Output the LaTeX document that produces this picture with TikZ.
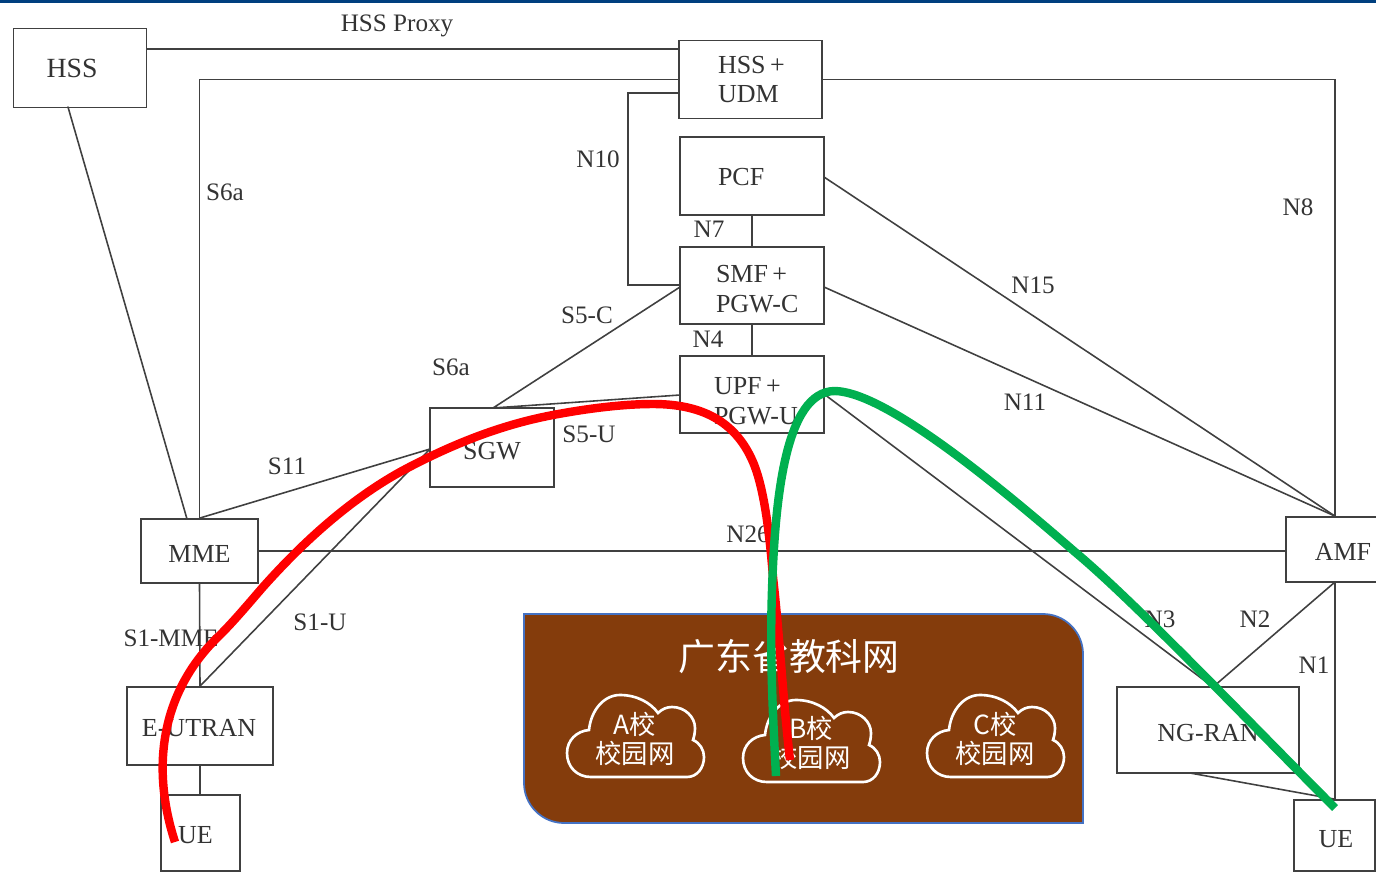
\documentclass[tikz,border=0pt]{standalone}
\usepackage{fontspec}
\setmainfont{Liberation Serif}
\newfontfamily\cjk{Noto Sans CJK SC}
\definecolor{lineG}{HTML}{404040}
\definecolor{textG}{HTML}{333333}
\definecolor{fillBrown}{HTML}{843C0C}
\definecolor{edgeBlue}{HTML}{4472C4}
\definecolor{barNavy}{HTML}{003F7F}
\definecolor{redP}{HTML}{FF0000}
\definecolor{greenP}{HTML}{00B050}
\tikzset{
  box/.style={draw=lineG, line width=1pt, inner sep=0pt, text=textG, align=left,
    font=\fontsize{14.8}{17}\selectfont},
  lab/.style={text=textG, inner sep=0pt, font=\fontsize{14.3}{17}\selectfont},
  conn/.style={draw=lineG, line width=.9pt},
  school/.style={text=white, align=center, inner sep=0pt, font=\cjk\fontsize{15}{16.5}\selectfont},
  route/.style={line width=4.8pt, line cap=butt},
  campus/.pic={
    \draw[white, line width=1.5pt] (24,82) .. controls (10,82) and (0,72) .. (0,58)
      .. controls (0,45) and (10,36) .. (22,35) .. controls (24,15) and (37,0) .. (53,0)
      .. controls (70,0) and (84,8) .. (91,18) .. controls (95,14) and (100,12) .. (105,12)
      .. controls (118,12) and (128,22) .. (128,33) .. controls (128,38) and (127,42) .. (126,45)
      .. controls (133,48) and (137,55) .. (137,62) .. controls (137,73) and (130,82) .. (120,82) -- cycle;
  }
}
\begin{document}
\begin{tikzpicture}[x=.02cm, y=-.02cm, line cap=round]
\useasboundingbox (0,0) rectangle (1376,875);
\fill[barNavy] (0,0) rectangle (1376,3);
% 网元
\node[box, minimum width=2.66cm, minimum height=1.58cm, font=\fontsize{15.8}{19}\selectfont] (hss) at (80,68) {HSS\hspace*{.32cm}};
\node[box, minimum width=2.86cm, minimum height=1.56cm, text width=2.86cm] (udm) at (750.5,79.5) {\hspace*{.78cm}HSS\,+\\\hspace*{.78cm}UDM};
\node[box, minimum width=2.88cm, minimum height=1.56cm, text width=2.88cm] (pcf) at (752,176) {\rule{0pt}{11pt}\hspace*{.76cm}PCF};
\node[box, minimum width=2.88cm, minimum height=1.54cm, text width=2.88cm] (smf) at (752,285.5) {\rule{0pt}{13.4pt}\hspace*{.72cm}SMF\,+\\\hspace*{.72cm}PGW-C};
\node[box, minimum width=2.88cm, minimum height=1.54cm, text width=2.88cm] (upf) at (752,394.5) {\rule{0pt}{17pt}\hspace*{.68cm}UPF\,+\\\hspace*{.68cm}PGW-U};
\node[box, minimum width=2.48cm, minimum height=1.58cm] (sgw) at (492,447.5) {\rule{0pt}{13.5pt}SGW};
\node[box, minimum width=2.34cm, minimum height=1.28cm] (mme) at (199.5,551) {\rule{0pt}{13.5pt}MME};
\node[box, minimum width=1.96cm, minimum height=1.30cm] (amf) at (1335,549.5) {\rule{0pt}{13pt}\hspace*{.32cm}AMF};
\node[box, minimum width=2.92cm, minimum height=1.56cm] (eutran) at (200,726) {\rule{0pt}{12pt}E-UTRAN\hspace*{.04cm}};
\node[box, minimum width=3.64cm, minimum height=1.72cm] (ngran) at (1208,730) {\rule{0pt}{13pt}NG-RAN};
\node[box, minimum width=1.58cm, minimum height=1.52cm] (ue) at (200.5,833) {\rule{0pt}{12.5pt}UE\hspace*{.2cm}};
\node[box, minimum width=1.62cm, minimum height=1.42cm] (uer) at (1334.5,835.5) {\rule{0pt}{14pt}\hspace*{.06cm}UE};
% 连线
\coordinate (hssA) at (hss.east |- 0,49);
\coordinate (hssB) at (68,107);
\coordinate (mmeA) at (187,519);
\coordinate (n10A) at (628,93);
\coordinate (n10B) at (628,285);
\coordinate (sgwT) at (493,408);
\coordinate (sgwL) at (430,449);
\coordinate (upfL) at (680,395);
\coordinate (smfL) at (680,287);
\coordinate (smfR) at (824,287);
\coordinate (pcfR) at (824,177);
\coordinate (upfR) at (824,394);
\coordinate (amfB) at (1335,582);
\coordinate (ngT) at (1213,687);
\coordinate (ngB) at (1190,773);
\draw[conn] (hssA) -- (udm.west |- hssA);
\draw[conn] (udm.west) -| (mme.north);
\draw[conn] (udm.east) -| (amf.north);
\draw[conn] (udm.west |- n10A) -- (n10A) -- (n10B) -- (smf.west |- n10B);
\draw[conn] (pcf.south) -- (smf.north);
\draw[conn] (smf.south) -- (upf.north);
\draw[conn] (hssB) -- (mmeA);
\draw[conn] (smfL) -- (sgwT) -- (upfL);
\draw[conn] (sgwL) -- (mme.north);
\draw[conn] (sgwL) -- (eutran.north);
\draw[conn] (mme.south) -- (eutran.north);
\draw[conn] (eutran.south) -- (ue.north -| eutran.south);
\draw[conn] (mme.east) -- (amf.west |- mme.east);
\draw[conn] (pcfR) -- (amf.north);
\draw[conn] (smfR) -- (amf.north);
\draw[conn] (upfR) -- (ngT);
\draw[conn] (amfB) -- (ngT);
\draw[conn] (amfB) -- (uer.north -| amfB);
\draw[conn] (ngB) -- (uer.north);
% 接口标注
\node[lab] (lproxy) at (397,26) {HSS Proxy};
\node[lab] (ls6a) at (225,192) {S6a};
\node[lab] (ln10) at (598,159) {N10};
\node[lab] (ln7) at (709,229) {N7};
\node[lab] (ln8) at (1298,207) {N8};
\node[lab] (ln15) at (1033,285) {N15};
\node[lab] (ls5c) at (587,315) {S5-C};
\node[lab] (ln4) at (708,339) {N4};
\node[lab] (ls6b) at (451,367) {S6a};
\node[lab] (ln11) at (1025,402) {N11};
\node[lab] (ls5u) at (589,434) {S5-U};
\node[lab] (ls11) at (287,466) {S11};
\node[lab] (ln26) at (748,534) {N26};
\node[lab] (ls1m) at (171,638) {S1-MME};
\node[lab] (ls1u) at (320,622) {S1-U};
\node[lab] (ln3) at (1160,619) {N3};
\node[lab] (ln2) at (1255,619) {N2};
\node[lab] (ln1) at (1314,665) {N1};
% 教科网
\draw[edgeBlue, fill=fillBrown, line width=1pt] (524,614) -- (1043,614)
  .. controls (1065,614) and (1083,632) .. (1083,654) -- (1083,823) -- (564,823)
  .. controls (542,823) and (524,805) .. (524,783) -- cycle;
\node[text=white, inner sep=0pt, font=\cjk\fontsize{21}{25}\selectfont] (edu) at (789,657) {广东省教科网};
\pic at (567,695) {campus};
\pic at (743,700) {campus};
\pic at (927,695) {campus};
\node[school] (sa) at (635,739) {A校\\校园网};
\node[school] (sb) at (811,743) {B校\\校园网};
\node[school] (sc) at (995,739) {C校\\校园网};
% 红绿路径
\draw[redP, route] (175,842) .. controls (150,765) and (162,690) .. (220,635)
  .. controls (235,620) and (250,602) .. (263,587)
  .. controls (305,540) and (350,500) .. (400,472)
  .. controls (450,445) and (500,425) .. (553,415)
  .. controls (590,408) and (625,404) .. (653,404)
  .. controls (700,404) and (735,420) .. (753,462)
  .. controls (765,490) and (770,540) .. (773,577)
  .. controls (780,640) and (783,700) .. (790,760);
\draw[greenP, route] (776,776) .. controls (772,700) and (770,650) .. (772,590)
  .. controls (775,500) and (785,391) .. (835,391)
  .. controls (880,392) and (975,465) .. (1075,552)
  .. controls (1135,602) and (1250,723) .. (1335,808);
\end{tikzpicture}
\end{document}
